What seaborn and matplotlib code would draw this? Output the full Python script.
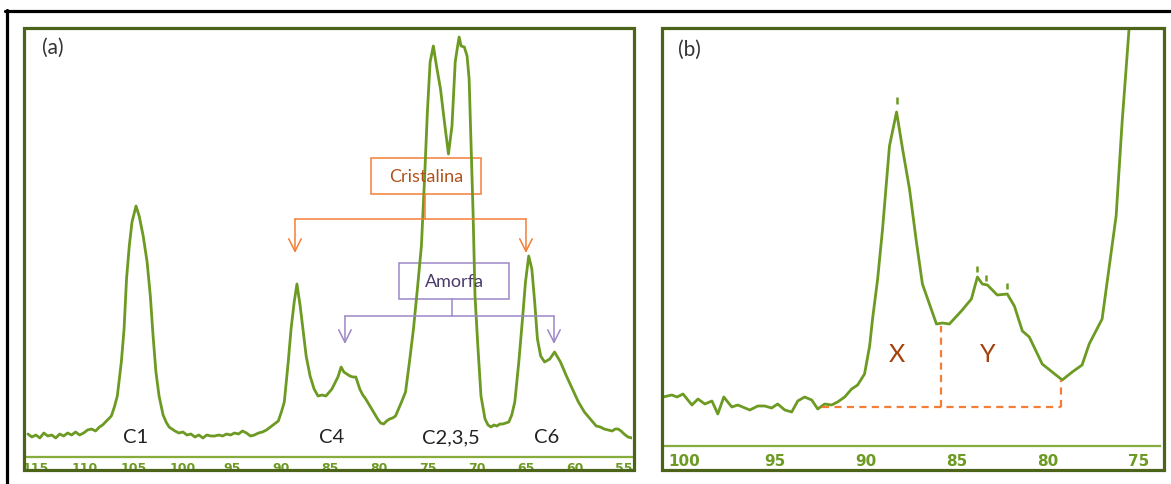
import numpy as np
import pandas as pd
import seaborn as sns
import matplotlib.pyplot as plt
from matplotlib.patches import Rectangle
from matplotlib.lines import Line2D

# panel (a): 13C CP-MAS spectrum, ppm / intensity
ppm_a = [115.82, 115.42, 115.01, 114.60, 114.20, 113.80, 113.39, 112.98, 112.58, 112.17,
         111.77, 111.36, 110.96, 110.55, 110.14, 109.74, 109.33, 108.92, 108.52, 108.20,
         107.91, 107.60, 107.31, 107.00, 106.70, 106.50, 106.29, 106.01, 105.76, 105.48,
         105.20, 104.79, 104.47, 104.06, 103.66, 103.33, 103.05, 102.76, 102.44, 102.03,
         101.72, 101.42, 101.12, 100.82, 100.41, 100.00, 99.60, 99.19, 98.78, 98.38,
         97.97, 97.57, 97.16, 96.76, 96.35, 95.95, 95.55, 95.14, 94.74, 94.33,
         93.93, 93.52, 93.11, 92.70, 92.30, 91.89, 91.48, 91.08, 90.67, 90.27,
         89.96, 89.66, 89.46, 89.26, 88.97, 88.65, 88.37, 88.04, 87.76, 87.43,
         87.03, 86.62, 86.22, 85.80, 85.41, 84.80, 84.19, 83.86, 83.58, 83.27,
         82.97, 82.66, 82.36, 81.96, 81.65, 81.35, 80.74, 80.13, 79.83, 79.52,
         79.22, 78.92, 78.61, 78.31, 77.70, 77.29, 76.89, 76.48, 76.08, 75.67,
         75.35, 75.06, 74.78, 74.45, 74.13, 73.72, 73.32, 72.91, 72.55, 72.22,
         72.02, 71.82, 71.62, 71.29, 71.01, 70.80, 70.60, 70.40, 70.20, 69.91,
         69.59, 69.18, 68.87, 68.57, 68.27, 67.97, 67.66, 67.36, 67.05, 66.75,
         66.45, 66.14, 65.73, 65.33, 65.05, 64.72, 64.40, 64.11, 63.83, 63.50,
         63.10, 62.57, 62.08, 61.48, 60.87, 60.26, 59.65, 59.04, 58.43, 57.83,
         57.42, 57.02, 56.61, 56.20, 55.90, 55.60, 55.30, 54.99, 54.59, 54.18, 53.57]
int_a = [23, 20, 22, 19, 24, 21, 22, 19, 23, 21,
         24, 22, 25, 22, 24, 27, 28, 26, 30, 32,
         35, 38, 41, 50, 61, 78, 95, 128, 178, 211,
         235, 251, 241, 221, 195, 161, 121, 85, 61, 42,
         35, 30, 28, 26, 24, 25, 22, 23, 20, 22,
         19, 22, 21, 21, 22, 21, 23, 22, 24, 23,
         26, 24, 21, 22, 24, 25, 27, 30, 33, 36,
         45, 55, 75, 95, 128, 155, 173, 151, 128, 101,
         81, 68, 61, 62, 61, 68, 80, 90, 85, 83,
         81, 80, 80, 68, 62, 58, 48, 38, 34, 33,
         36, 38, 39, 41, 55, 65, 95, 128, 168, 211,
         278, 345, 395, 411, 391, 368, 335, 303, 331, 395,
         408, 420, 411, 410, 401, 378, 311, 245, 161, 111,
         61, 38, 32, 30, 32, 31, 33, 33, 34, 35,
         42, 55, 95, 141, 175, 201, 188, 155, 118, 101,
         95, 98, 105, 95, 81, 68, 55, 45, 38, 31,
         30, 28, 27, 26, 28, 28, 26, 23, 20, 19, 21]
ticks_a = [115, 110, 105, 100, 95, 90, 85, 80, 75, 70, 65, 60, 55]
minor_a = [112.5, 107.5, 102.5, 97.5, 92.5, 87.5, 82.5, 77.5, 72.5, 67.5, 62.5, 57.5]
labels_a = ["C1", "C4", "C2,3,5", "C6"]
label_ppm_a = [104.8, 84.8, 72.7, 62.9]

# panel (b): expanded region
ppm_b = [101.15, 100.66, 100.38, 100.05, 99.56, 99.23, 98.85, 98.46, 98.14, 97.81,
         97.37, 97.04, 96.38, 95.94, 95.56, 95.18, 94.85, 94.46, 94.08, 93.75,
         93.37, 92.98, 92.65, 92.27, 91.89, 91.56, 91.17, 90.79, 90.46, 90.08,
         89.80, 89.64, 89.36, 89.09, 88.71, 88.32, 87.99, 87.61, 87.23, 86.90,
         86.13, 85.80, 85.42, 84.76, 84.21, 83.88, 83.61, 83.33, 82.79, 82.24,
         81.85, 81.41, 81.03, 80.32, 79.77, 79.22, 78.67, 78.13, 77.74, 77.03,
         76.26, 75.93, 75.55, 75.22]
int_b = [49, 51, 49, 52, 41, 47, 42, 45, 32, 49,
         39, 41, 36, 40, 40, 38, 42, 36, 34, 45,
         49, 46, 37, 42, 41, 44, 49, 57, 61, 72,
         100, 127, 167, 217, 300, 334, 297, 257, 204, 162,
         122, 123, 122, 135, 147, 169, 162, 161, 151, 152,
         140, 115, 109, 82, 74, 66, 74, 81, 102, 127,
         230, 324, 417, 480]
ticks_b = [100, 95, 90, 85, 80, 75]
minor_b = [97.5, 92.5, 87.5, 82.5, 77.5]
peak_marks_ppm = [88.32, 83.88, 83.39, 82.24]
peak_marks_lo = [342, 174, 165, 157]
peak_marks_hi = [349, 180, 171, 163]

W, H = 1171, 485
GREEN = "#6c9a22"
DARK = "#4b6419"
AXIS = "#86ad3c"
ORANGE = "#f47e35"
ORANGE_TXT = "#b0521c"
PURPLE = "#9d86c8"
PURPLE_TXT = "#4a3a6a"

sns.set_style("white")
plt.rcParams["font.family"] = ["Lato", "DejaVu Sans"]

fig = plt.figure(figsize=(W / 100, H / 100), dpi=100)
fig.patch.set_facecolor("white")


def fx(px):
    return px / W


def fy(py):
    return 1 - py / H


def style_axis(ax):
    for s in ["top", "left", "right"]:
        ax.spines[s].set_visible(False)
    ax.spines["bottom"].set_color(AXIS)
    ax.spines["bottom"].set_linewidth(1.6)
    ax.set_yticks([])
    ax.set_xlabel("")
    ax.set_ylabel("")
    ax.set_facecolor("none")


# ---------- panel (a)
axa = fig.add_axes([fx(25), fy(458), fx(607), 428 / H])
sns.lineplot(x=ppm_a, y=int_a, ax=axa, color=GREEN, lw=2.0, sort=False, estimator=None)
style_axis(axa)
axa.set_xticks(ticks_a)
axa.set_xticks(minor_a, minor=True)
axa.set_xticklabels([str(t) for t in ticks_a], fontsize=9, fontweight="bold",
                    color=GREEN, family="DejaVu Sans")
axa.tick_params(axis="x", which="major", length=3, width=1.5, color=AXIS, pad=0)
axa.tick_params(axis="x", which="minor", length=2.5, width=1.2, color=AXIS)
axa.set_xlim(116.12, 54.18)
axa.set_ylim(0, 428)
axa.text(0.045, 0.958, "(a)", transform=axa.transAxes, ha="center", va="center",
         fontsize=15, color="#333333")
for lab, p in zip(labels_a, label_ppm_a):
    axa.text(p, 20, lab, ha="center", va="center", fontsize=14.5, color="#222222")

# Cristalina box and bracket
axa.add_patch(Rectangle((69.59, 263), 11.23, 36, fill=False, ec=ORANGE, lw=1.1))
axa.text(75.2, 281, "Cristalina", ha="center", va="center", fontsize=13, color=ORANGE_TXT)
axa.plot([75.31, 75.31], [263, 238], color=ORANGE, lw=1.1)
axa.plot([88.57, 65.0], [238, 238], color=ORANGE, lw=1.1)
for p in [88.57, 65.0]:
    axa.annotate("", xy=(p, 204), xytext=(p, 238),
                 arrowprops=dict(arrowstyle="->,head_length=0.9,head_width=0.45",
                                 color=ORANGE, lw=1.1, shrinkA=0, shrinkB=0))

# Amorfa box and bracket
axa.add_patch(Rectangle((66.73, 158), 11.23, 36, fill=False, ec=PURPLE, lw=1.1))
axa.text(72.35, 176, "Amorfa", ha="center", va="center", fontsize=13, color=PURPLE_TXT)
axa.plot([72.55, 72.55], [158, 141], color=PURPLE, lw=1.1)
axa.plot([83.47, 62.14], [141, 141], color=PURPLE, lw=1.1)
for p in [83.47, 62.14]:
    axa.annotate("", xy=(p, 113), xytext=(p, 141),
                 arrowprops=dict(arrowstyle="->,head_length=0.9,head_width=0.45",
                                 color=PURPLE, lw=1.1, shrinkA=0, shrinkB=0))

# ---------- panel (b)
axb = fig.add_axes([fx(663), fy(447), fx(497), 417 / H])
sns.lineplot(x=ppm_b, y=int_b, ax=axb, color=GREEN, lw=2.0, sort=False, estimator=None)
style_axis(axb)
axb.set_xticks(ticks_b)
axb.set_xticks(minor_b, minor=True)
axb.set_xticklabels([str(t) for t in ticks_b], fontsize=11, fontweight="bold",
                    color=GREEN, family="DejaVu Sans")
axb.tick_params(axis="x", which="major", length=4, width=1.2, color=AXIS, pad=1)
axb.tick_params(axis="x", which="minor", length=2.5, width=1, color=AXIS)
axb.set_xlim(101.15, 73.85)
axb.set_ylim(0, 417)
axb.text(0.054, 0.952, "(b)", transform=axb.transAxes, ha="center", va="center",
         fontsize=15, color="#333333")
axb.vlines(peak_marks_ppm, peak_marks_lo, peak_marks_hi, color=GREEN, lw=1.8)

dash = dict(color=ORANGE, lw=1.6, ls=(0, (3.2, 2.4)))
axb.plot([92.43, 79.28], [39, 39], **dash)
axb.plot([85.86, 85.86], [39, 120], **dash)
axb.plot([79.28, 79.28], [39, 66], **dash)
axb.text(88.3, 92, "X", ha="center", va="center", fontsize=18, color="#a3420c")
axb.text(83.3, 92, "Y", ha="center", va="center", fontsize=18, color="#a3420c")

# ---------- frames
for x0, x1 in [(23.5, 633.5), (661.5, 1163.5)]:
    fig.add_artist(Rectangle((fx(x0), fy(470.5)), fx(x1 - x0), 442 / H,
                             transform=fig.transFigure, fill=False, ec=DARK, lw=2.3))
fig.add_artist(Line2D([fx(5), 1.0], [fy(12), fy(12)], transform=fig.transFigure,
                      color="black", lw=2.3))
fig.add_artist(Line2D([fx(6.5), fx(6.5)], [0.0, fy(11)], transform=fig.transFigure,
                      color="black", lw=2.3))

fig.savefig("out.png", dpi=100, facecolor="white")
